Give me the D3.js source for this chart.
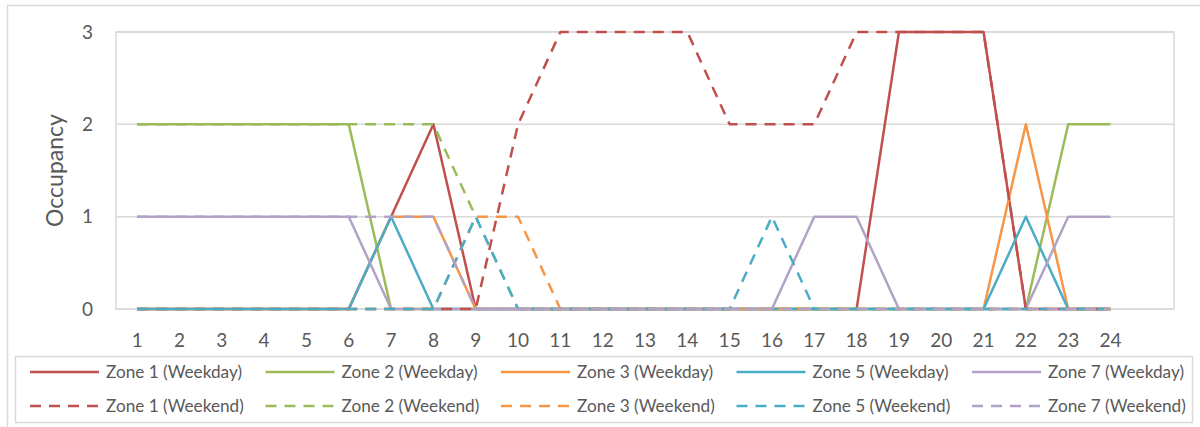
<!DOCTYPE html>
<html>
<head>
<meta charset="utf-8">
<script src="https://cdn.jsdelivr.net/npm/d3@7"></script>
<style>
  html, body { margin: 0; padding: 0; background: #fff; }
  svg { display: block; font-family: Lato, "Open Sans", sans-serif; }
</style>
</head>
<body>
<svg id="chart" width="1200" height="427"></svg>
<script>
// Hour of day (category axis)
const hours = ["1","2","3","4","5","6","7","8","9","10","11","12",
               "13","14","15","16","17","18","19","20","21","22","23","24"];
const yTicks = [0, 1, 2, 3];

// Hourly occupancy per zone
const zone1Weekday = [0,0,0,0,0,0,1,2,0,0,0,0,0,0,0,0,0,0,3,3,3,0,0,0];
const zone2Weekday = [2,2,2,2,2,2,0,0,0,0,0,0,0,0,0,0,0,0,0,0,0,0,2,2];
const zone3Weekday = [0,0,0,0,0,0,1,1,0,0,0,0,0,0,0,0,0,0,0,0,0,2,0,0];
const zone5Weekday = [0,0,0,0,0,0,1,0,0,0,0,0,0,0,0,0,0,0,0,0,0,1,0,0];
const zone7Weekday = [1,1,1,1,1,1,0,0,0,0,0,0,0,0,0,0,1,1,0,0,0,0,1,1];
const zone1Weekend = [0,0,0,0,0,0,0,0,0,2,3,3,3,3,2,2,2,3,3,3,3,0,0,0];
const zone2Weekend = [2,2,2,2,2,2,2,2,1,0,0,0,0,0,0,0,0,0,0,0,0,0,0,0];
const zone3Weekend = [0,0,0,0,0,0,0,0,1,1,0,0,0,0,0,0,0,0,0,0,0,0,0,0];
const zone5Weekend = [0,0,0,0,0,0,0,0,1,0,0,0,0,0,0,1,0,0,0,0,0,0,0,0];
const zone7Weekend = [1,1,1,1,1,1,1,1,0,0,0,0,0,0,0,0,0,0,0,0,0,0,0,0];

const seriesNames = [
  "Zone 1 (Weekday)", "Zone 2 (Weekday)", "Zone 3 (Weekday)", "Zone 5 (Weekday)", "Zone 7 (Weekday)",
  "Zone 1 (Weekend)", "Zone 2 (Weekend)", "Zone 3 (Weekend)", "Zone 5 (Weekend)", "Zone 7 (Weekend)"
];
const seriesValues = [
  zone1Weekday, zone2Weekday, zone3Weekday, zone5Weekday, zone7Weekday,
  zone1Weekend, zone2Weekend, zone3Weekend, zone5Weekend, zone7Weekend
];

const zoneColors = ["#C0504D", "#9BBB59", "#F79646", "#4BACC6", "#B3A2C7"];
const dashPattern = "11,8";

const series = seriesNames.map((name, i) => ({
  name,
  values: seriesValues[i],
  color: zoneColors[i % 5],
  dashed: i >= 5
}));

const svg = d3.select("#chart");
const textColor = "#595959";
const gridColor = "#D9D9D9";

// Chart frame
svg.append("rect")
  .attr("x", 7.5).attr("y", 5.5)
  .attr("width", 1210).attr("height", 440)
  .attr("fill", "#fff")
  .attr("stroke", gridColor).attr("stroke-width", 1.5);

const plot = { left: 116, right: 1174, top: 32, bottom: 309 };

// One empty slot after hour 24 leaves a blank band at the right
const x = d3.scaleBand()
  .domain([...hours, ""])
  .range([plot.left, plot.right]);
const xc = h => x(h) + x.bandwidth() / 2;

const y = d3.scaleLinear()
  .domain([0, 3])
  .range([plot.bottom, plot.top]);

// Horizontal gridlines
svg.append("g")
  .selectAll("line")
  .data(yTicks)
  .join("line")
  .attr("x1", plot.left).attr("x2", plot.right)
  .attr("y1", d => y(d)).attr("y2", d => y(d))
  .attr("stroke", gridColor).attr("stroke-width", 1.5);

// Plot area border
svg.append("rect")
  .attr("x", plot.left).attr("y", plot.top)
  .attr("width", plot.right - plot.left).attr("height", plot.bottom - plot.top)
  .attr("fill", "none")
  .attr("stroke", gridColor).attr("stroke-width", 1.5);

// Y axis
const yAxis = svg.append("g")
  .attr("transform", `translate(${plot.left - 23},0)`)
  .call(d3.axisLeft(y).tickValues(yTicks).tickSize(0).tickPadding(0).tickFormat(d3.format("d")));
yAxis.select(".domain").remove();
yAxis.selectAll("text")
  .attr("fill", textColor)
  .style("font-size", "19px")
  .style("font-family", "Lato, sans-serif");

// X axis
const xAxis = svg.append("g")
  .attr("transform", `translate(0,${plot.bottom + 24})`)
  .call(d3.axisBottom(x).tickSize(0).tickPadding(0));
xAxis.select(".domain").remove();
xAxis.selectAll("text")
  .attr("fill", textColor)
  .attr("dy", "0.72em")
  .style("font-size", "19px")
  .style("font-family", "Lato, sans-serif");

// Y axis title
svg.append("text")
  .attr("transform", `translate(63,${(plot.top + plot.bottom) / 2}) rotate(-90)`)
  .attr("text-anchor", "middle")
  .attr("fill", textColor)
  .style("font-size", "23px")
  .text("Occupancy");

// Series lines
const line = d3.line()
  .x((d, i) => xc(hours[i]))
  .y(d => y(d));

svg.append("g")
  .selectAll("path")
  .data(series)
  .join("path")
  .attr("d", d => line(d.values))
  .attr("fill", "none")
  .attr("stroke", d => d.color)
  .attr("stroke-width", 2.5)
  .attr("stroke-linejoin", "round")
  .attr("stroke-dasharray", d => d.dashed ? dashPattern : null);

// Legend
const legend = { x: 15, y: 356, w: 1177, h: 66 };
svg.append("rect")
  .attr("x", legend.x + 0.5).attr("y", legend.y + 0.5)
  .attr("width", legend.w).attr("height", legend.h)
  .attr("fill", "#fff")
  .attr("stroke", gridColor).attr("stroke-width", 1.5);

const colStep = 235.5;
const rowY = [372, 406];
const items = svg.append("g")
  .selectAll("g")
  .data(series)
  .join("g")
  .attr("transform", (d, i) => `translate(${30 + colStep * (i % 5)},${rowY[Math.floor(i / 5)]})`);

items.append("line")
  .attr("x1", 0).attr("x2", 69)
  .attr("stroke", d => d.color)
  .attr("stroke-width", 2.5)
  .attr("stroke-dasharray", d => d.dashed ? dashPattern : null);

items.append("text")
  .attr("x", 76)
  .attr("dy", "0.36em")
  .attr("fill", textColor)
  .style("font-size", "17.2px")
  .text(d => d.name);
</script>
</body>
</html>
